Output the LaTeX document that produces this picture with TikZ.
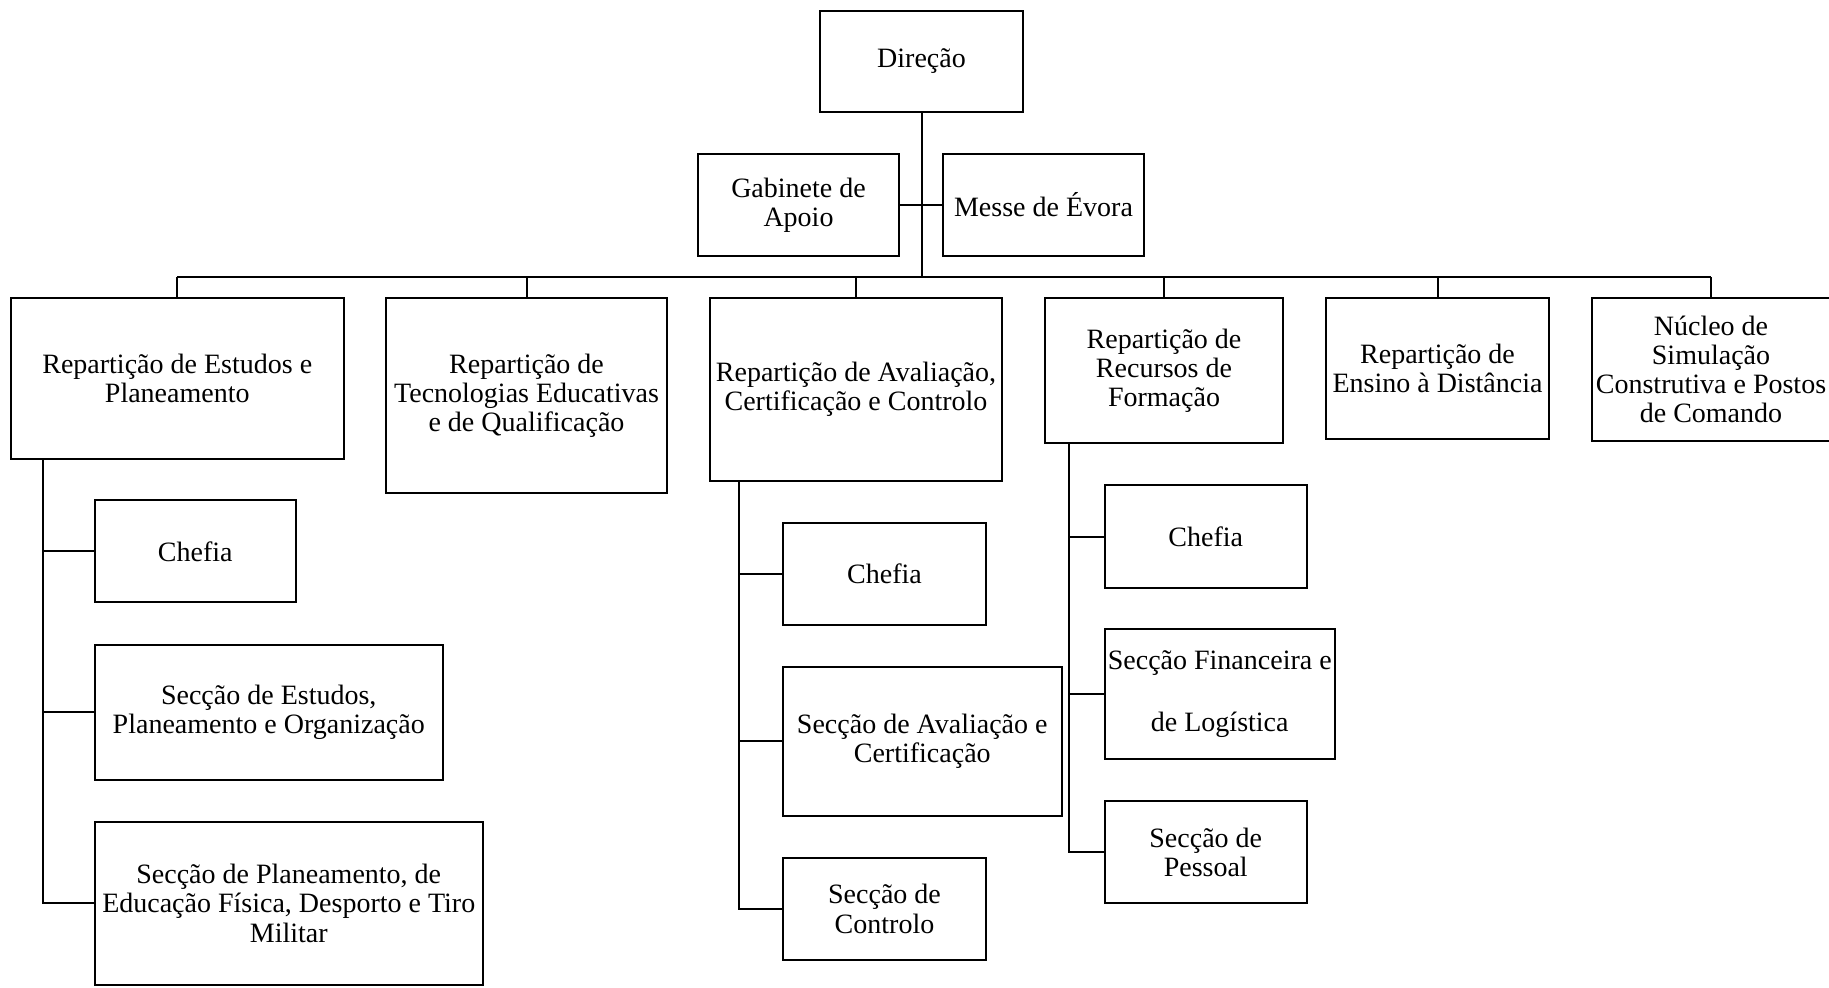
\documentclass[tikz,border=0pt]{standalone}
\usepackage{fontspec}
\setmainfont{Liberation Serif}
\begin{document}
\begin{tikzpicture}[x=0.5pt,y=-0.5pt,
  box/.style={draw, line width=1pt, align=center, inner sep=0pt,
    font=\fontsize{14}{14.6}\selectfont},
  sz/.style 2 args={minimum width=#1*0.5pt, minimum height=#2*0.5pt},
  conn/.style={line width=1pt}]
\useasboundingbox (0,0) rectangle (1829,987);
% top
\node[box, sz={203}{101}] (dir) at (921.5,61.5) {Direção};
\node[box, sz={201}{102}] (gab) at (798.5,205) {Gabinete de\\Apoio};
\node[box, sz={201}{102}] (messe) at (1043.5,205) {Messe de Évora};
% level 1
\node[box, sz={333.5}{161}] (repest) at (177.25,378.5) {Repartição de Estudos e\\Planeamento};
\node[box, sz={281}{195}] (reptec) at (526.5,395.5) {Repartição de\\Tecnologias Educativas\\e de Qualificação};
\node[box, sz={292}{183}] (repaval) at (856,389.5) {Repartição de Avaliação,\\Certificação e Controlo};
\node[box, sz={238}{145}] (reprec) at (1164,370.5) {Repartição de\\Recursos de\\Formação};
\node[box, sz={223}{141}] (repens) at (1437.5,368.5) {Repartição de\\Ensino à Distância};
\node[box, sz={238}{143}] (nucleo) at (1711,369.5) {Núcleo de\\Simulação\\Construtiva e Postos\\de Comando};
% level 2
\node[box, sz={201.5}{102}] (chefa) at (195.25,551.35) {Chefia};
\node[box, sz={348.5}{135}] (secest) at (268.75,712) {Secção de Estudos,\\Planeamento e Organização};
\node[box, sz={388.5}{163.4}] (secplan) at (288.75,903.3) {Secção de Planeamento, de\\Educação Física, Desporto e Tiro\\Militar};
\node[box, sz={203}{101.7}] (chefb) at (884.5,573.85) {Chefia};
\node[box, sz={278.5}{149}] (secaval) at (922.25,741.3) {Secção de Avaliação e\\Certificação};
\node[box, sz={203}{101.6}] (seccont) at (884.5,908.8) {Secção de\\Controlo};
\node[box, sz={201.5}{102.4}] (chefc) at (1205.75,536.5) {Chefia};
\node[box, sz={229.5}{130}] (secfin) at (1219.75,694) {Secção Financeira e\\[16.3pt]de Logística};
\node[box, sz={201.5}{101.4}] (secpes) at (1205.75,852.1) {Secção de\\Pessoal};
% connectors
\coordinate (bus) at (921.5,277);
\draw[conn] (dir.south) -- (bus);
\draw[conn] (gab.east) -- (messe.west);
\draw[conn] (repest.north |- bus) -- (nucleo.north |- bus);
\foreach \n in {repest,reptec,repaval,reprec,repens,nucleo}
  \draw[conn] (\n.north) -- (\n.north |- bus);
% sub-trunks
\draw[conn] ([xshift=16.9pt]repest.south west) coordinate (ta) |- (secplan.west);
\draw[conn] (chefa.west) -- (chefa.west -| ta);
\draw[conn] (secest.west) -- (secest.west -| ta);
\draw[conn] ([xshift=14.75pt]repaval.south west) coordinate (tb) |- (seccont.west);
\draw[conn] (chefb.west) -- (chefb.west -| tb);
\draw[conn] (secaval.west) -- (secaval.west -| tb);
\draw[conn] ([xshift=12.35pt]reprec.south west) coordinate (tc) |- (secpes.west);
\draw[conn] (chefc.west) -- (chefc.west -| tc);
\draw[conn] (secfin.west) -- (secfin.west -| tc);
\end{tikzpicture}
\end{document}
